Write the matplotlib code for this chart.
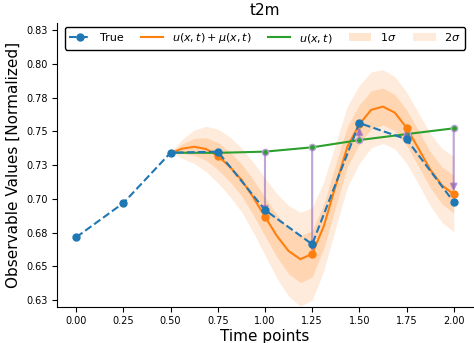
import numpy as np
import matplotlib.pyplot as plt

# observed (true) values
t_true = [0.0, 0.25, 0.5, 0.75, 1.0, 1.25, 1.5, 1.75, 2.0]
y_true = [0.6715, 0.6969, 0.7342, 0.7350, 0.6917, 0.6663, 0.7562, 0.7442, 0.6977]

# u(x,t) at the forecast steps
t_u = [0.5, 0.75, 1.0, 1.25, 1.5, 1.75, 2.0]
y_u = [0.7342, 0.7341, 0.7350, 0.7382, 0.7436, 0.7480, 0.7523]

# u + mu curve and its std, read every 1/16
t_mu = np.linspace(0.5, 2.0, 25)
y_mu = [0.7342, 0.7372, 0.7386, 0.7370, 0.7318, 0.7240, 0.7142, 0.7012,
        0.6868, 0.6726, 0.6613, 0.6552, 0.6591, 0.6800, 0.7100, 0.7390,
        0.7552, 0.7660, 0.7684, 0.7640, 0.7528, 0.7375, 0.7218, 0.7100,
        0.7034]
sd_mu = [0.0, 0.0036, 0.0062, 0.0084, 0.0100, 0.0110, 0.0118, 0.0130,
         0.0143, 0.0157, 0.0168, 0.0174, 0.0172, 0.0165, 0.0157, 0.0150,
         0.0145, 0.0141, 0.0137, 0.0134, 0.0132, 0.0132, 0.0134, 0.0137,
         0.0140]

ytick_vals = [0.625, 0.65, 0.675, 0.70, 0.725, 0.75, 0.775, 0.80, 0.825]
ytick_labels = ['0.63', '0.65', '0.68', '0.70', '0.73', '0.75', '0.78', '0.80', '0.83']

y_mu = np.array(y_mu)
sd_mu = np.array(sd_mu)
pts = slice(4, None, 4)   # the forecast nodes 0.75 ... 2.0

fig = plt.figure(figsize=(4.74, 3.43), dpi=100)
ax = fig.add_axes([0.121, 0.106, 0.876, 0.826])

ax.fill_between(t_mu, y_mu - 2 * sd_mu, y_mu + 2 * sd_mu, color='tab:orange',
                alpha=0.15, lw=0, label=r'$2\sigma$')
ax.fill_between(t_mu, y_mu - sd_mu, y_mu + sd_mu, color='tab:orange',
                alpha=0.2, lw=0, label=r'$1\sigma$')
ax.plot(t_mu, y_mu, color='tab:orange', lw=1.5, label=r'$u(x,t) + \mu(x,t)$')
ax.plot(t_u, y_u, color='tab:green', lw=1.5, label=r'$u(x,t)$')

for tt, a, b in zip(t_u[2:], y_u[2:], y_mu[pts][1:]):
    ax.annotate('', xy=(tt, b), xytext=(tt, a),
                arrowprops=dict(arrowstyle='-|>', color='tab:purple', alpha=0.6,
                                lw=1.5, mutation_scale=10))

ax.plot(t_u[2:], y_u[2:], 'o', ms=4.5, color='tab:green',
        mec='#b9a3d6', mew=1)
ax.plot(t_mu[pts], y_mu[pts], 'o', ms=5, color='tab:orange', zorder=3)
ax.plot(t_true, y_true, 'o--', ms=5, lw=1.5, color='tab:blue',
        label='True', zorder=4)

ax.set_xlim(-0.1, 2.1)
ax.set_ylim(0.6200, 0.8302)
ax.set_xticks([0.0, 0.25, 0.5, 0.75, 1.0, 1.25, 1.5, 1.75, 2.0])
ax.set_xticklabels(['0.00', '0.25', '0.50', '0.75', '1.00', '1.25', '1.50', '1.75', '2.00'])
ax.set_yticks(ytick_vals)
ax.set_yticklabels(ytick_labels)
ax.tick_params(labelsize=7)
ax.spines['top'].set_visible(False)
ax.spines['right'].set_visible(False)

ax.set_title('t2m', fontsize=11)
ax.set_xlabel('Time points', fontsize=11, labelpad=2)
ax.set_ylabel('Observable Values [Normalized]', fontsize=11)

h, l = ax.get_legend_handles_labels()
order = [4, 2, 3, 1, 0]
leg = ax.legend([h[i] for i in order], [l[i] for i in order], loc='upper center',
                ncol=5, fontsize=8, edgecolor='black', framealpha=1,
                columnspacing=1.5, handlelength=2.0, borderaxespad=0.3)
leg.get_frame().set_linewidth(1.0)

plt.savefig('out.png', dpi=100)
